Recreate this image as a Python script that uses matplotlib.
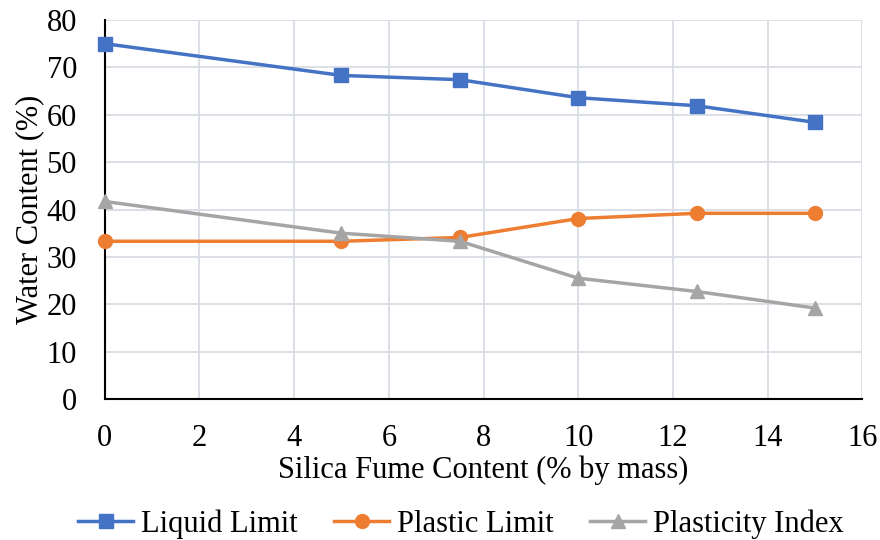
import matplotlib as mpl
import matplotlib.pyplot as plt

mpl.rcParams['font.family'] = ['Liberation Serif', 'DejaVu Serif']

silica = [0, 5, 7.5, 10, 12.5, 15]
liquid_limit = [75.0, 68.3, 67.4, 63.6, 61.9, 58.4]
plastic_limit = [33.3, 33.3, 34.1, 38.1, 39.2, 39.2]
plasticity_index = [41.7, 35.0, 33.3, 25.5, 22.7, 19.2]

fig = plt.figure(figsize=(8.8, 5.4), dpi=100)
ax = fig.add_axes([0.119, 0.261, 0.861, 0.702])

ax.plot(silica, liquid_limit, color='#4472C4', lw=2.5, marker='s', ms=10,
        label='Liquid Limit', zorder=3, clip_on=False)
ax.plot(silica, plastic_limit, color='#ED7D31', lw=2.5, marker='o', ms=10,
        label='Plastic Limit', zorder=3, clip_on=False)
ax.plot(silica, plasticity_index, color='#A5A5A5', lw=2.5, marker='^', ms=10,
        label='Plasticity Index', zorder=3, clip_on=False)

ax.set_xlim(0, 16)
ax.set_ylim(0, 80)
ax.set_xticks(range(0, 17, 2))
ax.set_yticks(range(0, 81, 10))
ax.grid(True, color='#D9DDE4', lw=1.3, zorder=0)
ax.set_axisbelow(True)
for s in ['top', 'right']:
    ax.spines[s].set_visible(False)
ax.spines['left'].set_color('black')
ax.spines['bottom'].set_color('black')
ax.spines['left'].set_linewidth(1.5)
ax.spines['bottom'].set_linewidth(1.5)
ax.tick_params(axis='y', length=0, labelsize=22, pad=20)
ax.tick_params(axis='x', length=0, labelsize=22, pad=18)

ax.set_xlabel('Silica Fume Content (% by mass)', fontsize=22, labelpad=2)
ax.set_ylabel('Water Content (%)', fontsize=22, labelpad=2)

ax.legend(loc='center', bbox_to_anchor=(0.47, -0.33), ncol=3,
          frameon=False, fontsize=22, handlelength=1.8, columnspacing=1.2,
          handletextpad=0.25)

plt.savefig('out.png', dpi=100)
